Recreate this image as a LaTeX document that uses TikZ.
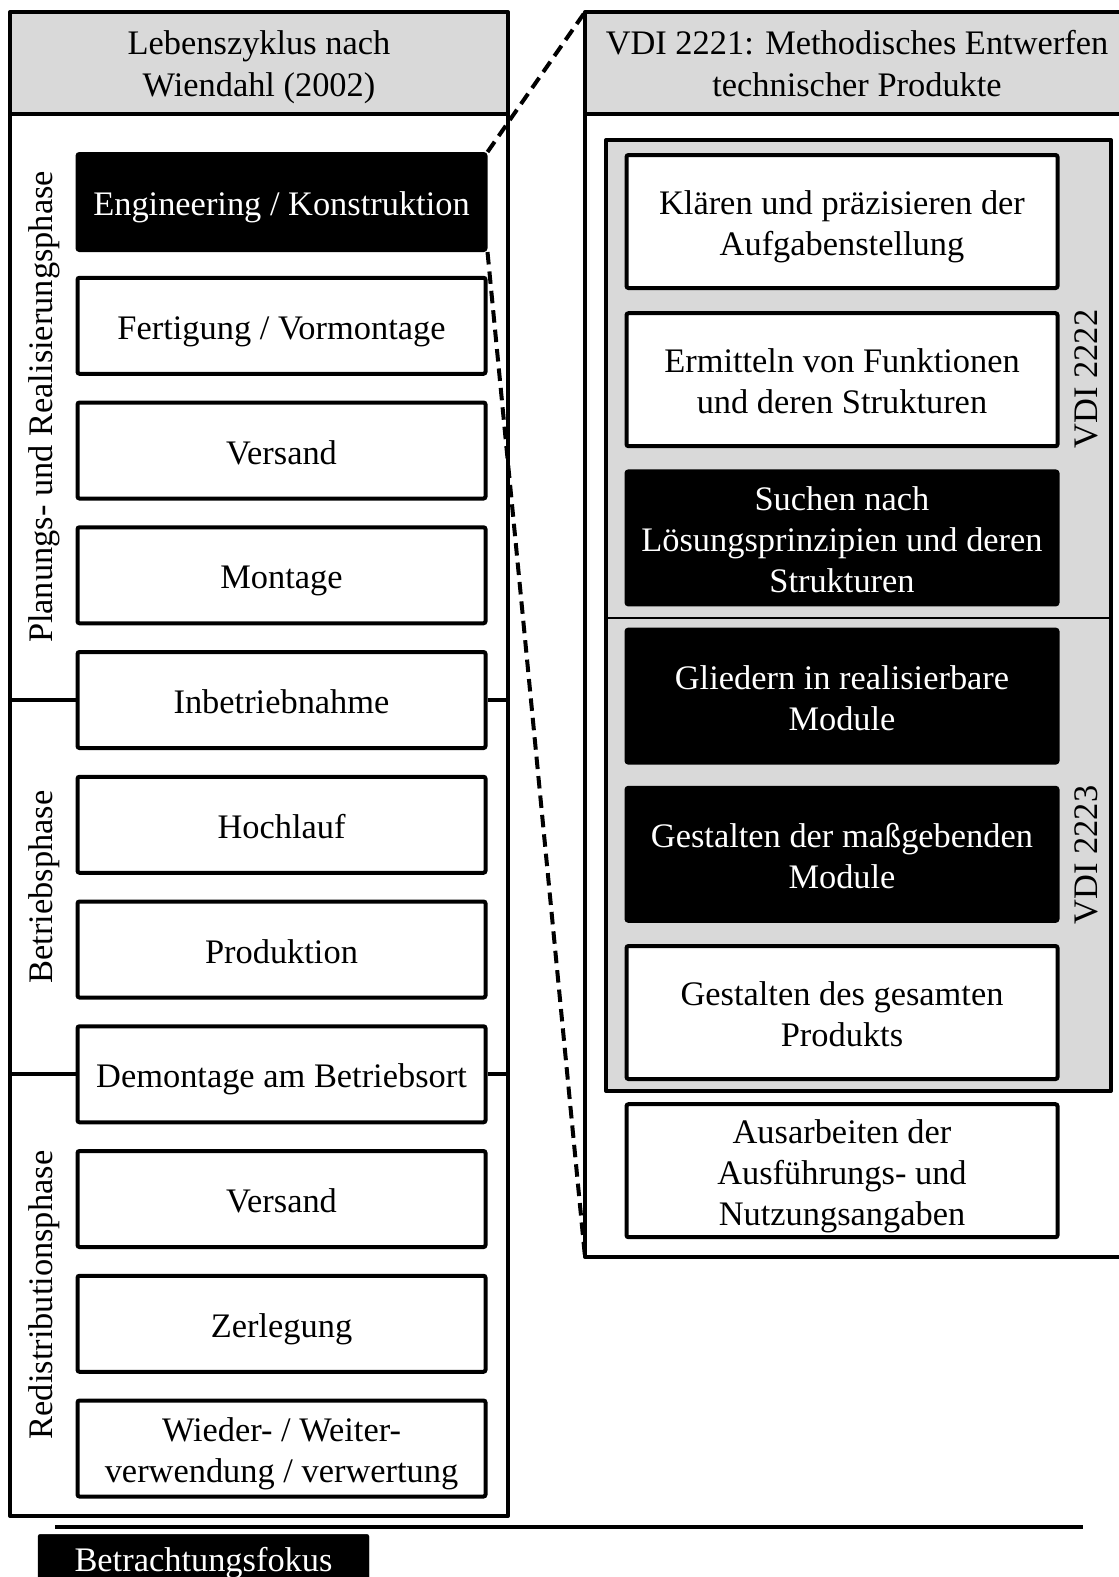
\documentclass[tikz,border=0pt]{standalone}
\usepackage{fontspec}
\setmainfont{Liberation Serif}
\definecolor{headgray}{RGB}{217,217,217}
\begin{document}
\begin{tikzpicture}[x=1pt,y=-1pt,
  every node/.style={font=\fontsize{34.4pt}{41.3pt}\selectfont, align=center, inner sep=0pt,
    % fixed line metrics, so every text sits at the same height in its box
    execute at begin node={\rule{0pt}{37.2pt}},
    execute at end node={\rule[-10pt]{0pt}{10pt}}},
  twolines/.style={execute at begin node={\rule{0pt}{78.5pt}}},
  threelines/.style={execute at begin node={\rule{0pt}{119.8pt}}},
  frame/.style={line width=4pt, line join=round},
  lbox/.style={draw, line width=4pt, fill=white, rounded corners=2pt,
    minimum width=408pt, minimum height=96pt},
  rbox/.style={draw, line width=4pt, fill=white, rounded corners=2pt,
    minimum width=431pt, minimum height=133pt},
  focus/.style={fill=black, draw=black, text=white},
  conn/.style={line width=4pt, dash pattern=on 12.5pt off 7pt},
  phase/.style={rotate=90}
]
\useasboundingbox (0,0) rectangle (1119,1577);
\clip (0,0) rectangle (1119,1577);

% frame corners
\coordinate (lfnw) at (10,12);
\coordinate (lfse) at (508,1516);
\coordinate (rfnw) at (585,12);
\coordinate (rfsw) at (585,1257);

% left frame: life cycle
\fill[headgray] (lfnw) rectangle (508,114);
\draw[frame] (lfnw) rectangle (lfse);
\draw[frame] (10,114) -- (508,114);
\node[twolines] (lhead) at (259,62) {Lebenszyklus nach\\Wiendahl (2002)};

% right frame: VDI 2221
\fill[headgray] (rfnw) rectangle (1130,114);
\draw[frame] (1130,12) -- (rfnw) -- (rfsw) -- (1130,1257);
\draw[frame] (585,114) -- (1130,114);
\node[twolines] (rhead) at (857,62) {VDI 2221: Methodisches Entwerfen\\technischer Produkte};

% grey block with the VDI 2222 / 2223 parts
\draw[frame, fill=headgray] (606,140) rectangle (1111,1091);
\draw[line width=2pt] (606,618) -- (1111,618);
\node[phase] (vdi2222) at (1084,379) {VDI 2222};
\node[phase] (vdi2223) at (1084,855) {VDI 2223};

% life cycle steps
\node[lbox, focus] (l1) at (281.5,202) {Engineering / Konstruktion};
\node[lbox] (l2) at (281.5,325.75) {Fertigung / Vormontage};
\node[lbox] (l3) at (281.5,450.5) {Versand};
\node[lbox] (l4) at (281.5,575.25) {Montage};
\node[lbox] (l5) at (281.5,700) {Inbetriebnahme};
\node[lbox] (l6) at (281.5,824.75) {Hochlauf};
\node[lbox] (l7) at (281.5,949.5) {Produktion};
\node[lbox] (l8) at (281.5,1074.25) {Demontage am Betriebsort};
\node[lbox] (l9) at (281.5,1199) {Versand};
\node[lbox] (l10) at (281.5,1323.75) {Zerlegung};
\node[lbox, twolines] (l11) at (281.5,1448.5) {Wieder- / Weiter-\\verwendung / verwertung};

% phase separators
\draw[frame] (l5.west) -- (l5.west -| lfnw);
\draw[frame] (l5.east) -- (l5.east -| lfse);
\draw[frame] (l8.west) -- (l8.west -| lfnw);
\draw[frame] (l8.east) -- (l8.east -| lfse);

% phase labels
\node[phase] (p1) at (38.5,407) {Planungs- und Realisierungsphase};
\node[phase] (p2) at (38.5,887) {Betriebsphase};
\node[phase] (p3) at (38.5,1295) {Redistributionsphase};

% design steps
\node[rbox, twolines] (r1) at (842,221.5) {Klären und präzisieren der\\Aufgabenstellung};
\node[rbox, twolines] (r2) at (842,379.7) {Ermitteln von Funktionen\\und deren Strukturen};
\node[rbox, focus, threelines] (r3) at (842,537.9) {Suchen nach\\Lösungsprinzipien und deren\\Strukturen};
\node[rbox, focus, twolines] (r4) at (842,696.1) {Gliedern in realisierbare\\Module};
\node[rbox, focus, twolines] (r5) at (842,854.3) {Gestalten der maßgebenden\\Module};
\node[rbox, twolines] (r6) at (842,1012.5) {Gestalten des gesamten\\Produkts};
\node[rbox, threelines] (r7) at (842,1170.7) {Ausarbeiten der\\Ausführungs- und\\Nutzungsangaben};

% zoom lines
\draw[conn] (l1.north east) -- (rfnw);
\draw[conn] (l1.south east) -- (rfsw);

% legend
\coordinate (legl) at (55,1527);
\coordinate (legr) at (1083,1527);
\draw[line width=4pt] (legl) -- (legr);
\node[focus, rounded corners=2pt, minimum width=331pt, minimum height=44pt] (legend) at (203.5,1558) {Betrachtungsfokus};
\fill (legend.south west) rectangle (369,1590);
\end{tikzpicture}
\end{document}
